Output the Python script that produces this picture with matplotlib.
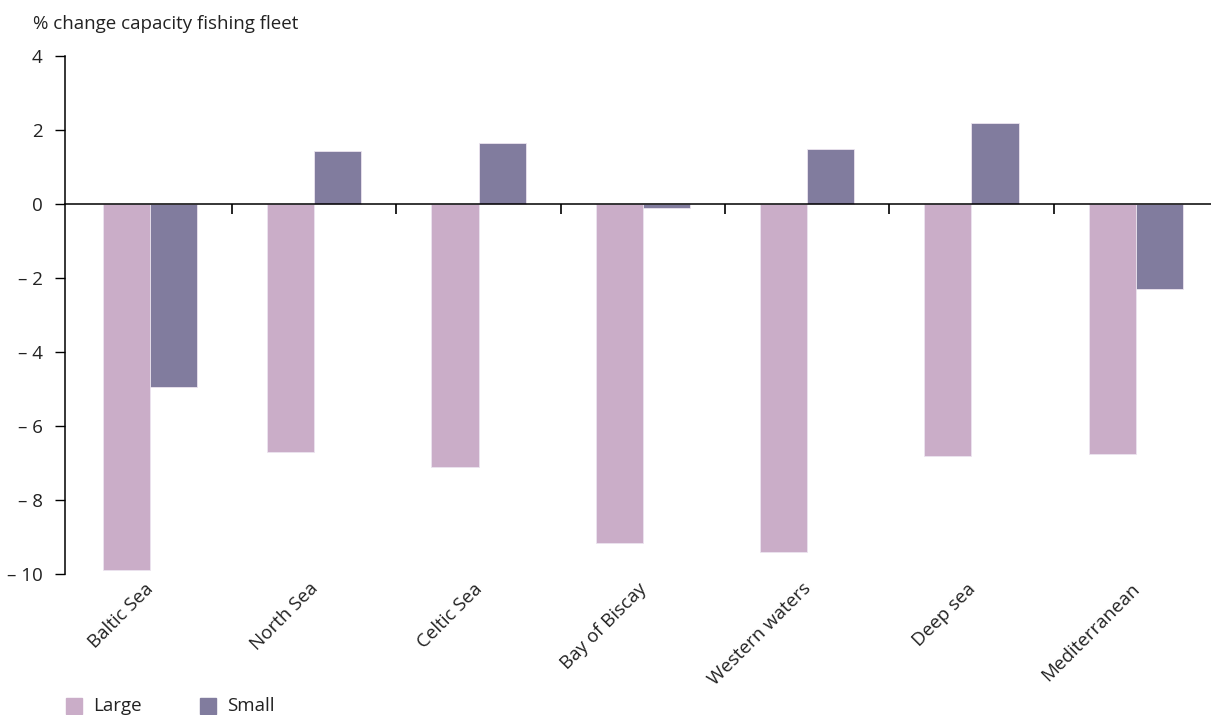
import matplotlib.pyplot as plt
import matplotlib.transforms as mtransforms
from matplotlib.patches import Rectangle
import numpy as np

plt.rcParams['font.family'] = ['Open Sans', 'DejaVu Sans']

categories = ["Baltic Sea", "North Sea", "Celtic Sea", "Bay of Biscay",
              "Western waters", "Deep sea", "Mediterranean"]
large = [-9.9, -6.7, -7.1, -9.15, -9.4, -6.8, -6.75]
small = [-4.95, 1.42, 1.65, -0.1, 1.48, 2.18, -2.3]
yticks = [4, 2, 0, -2, -4, -6, -8, -10]
ytick_labels = ["4", "2", "0", "– 2", "– 4", "– 6", "– 8", "– 10"]
series_names = ["Large", "Small"]
colors = ["#CAADC8", "#817C9E"]

FS = 13.5
TXT = "#222222"

fig = plt.figure(figsize=(12.11, 7.15), dpi=100)
ax = fig.add_axes([65/1211, 1-574/715, (1211-65)/1211, (574-56)/715])

x = np.arange(len(categories))
w = 0.287
ax.bar(x - w/2, large, width=w, color=colors[0], edgecolor="#ece4ef", linewidth=0.6)
ax.bar(x + w/2, small, width=w, color=colors[1], edgecolor="#ece4ef", linewidth=0.6)

ax.set_xlim(-0.517, 6.458)
ax.set_ylim(-10, 4)

for s in ["top", "right"]:
    ax.spines[s].set_visible(False)
ax.spines["bottom"].set_position(("data", 0))
ax.spines["bottom"].set_linewidth(1.1)
ax.spines["left"].set_linewidth(1.1)

ax.set_yticks(yticks)
ax.set_yticklabels(ytick_labels, fontsize=FS, color=TXT)
ax.tick_params(axis="y", length=7, width=1, pad=9)

ax.set_xticks(np.arange(0.5, len(categories) - 1, 1.0))
ax.set_xticklabels([])
ax.tick_params(axis="x", length=7, width=1.2, direction="out")

trans = mtransforms.blended_transform_factory(ax.transData, ax.transAxes)
offset = mtransforms.ScaledTranslation(1/100, -12/100, fig.dpi_scale_trans)
for i, c in enumerate(categories):
    ax.text(i, 0, c, transform=trans + offset, rotation=45, rotation_mode="anchor",
            ha="right", va="center", fontsize=FS, color=TXT)

fig.text(33/1211, 1-24/715, "% change capacity fishing fleet", fontsize=FS,
         ha="left", va="center", color=TXT)

# legend
for k, (name, col) in enumerate(zip(series_names, colors)):
    x0 = 66 + k * 134
    fig.patches.append(Rectangle((x0/1211, 1-714/715), 16/1211, 16/715,
                                 transform=fig.transFigure, color=col))
    fig.text((x0 + 27)/1211, 1-706/715, name, fontsize=FS, ha="left",
             va="center", color=TXT)

fig.savefig("out.png", dpi=100)
